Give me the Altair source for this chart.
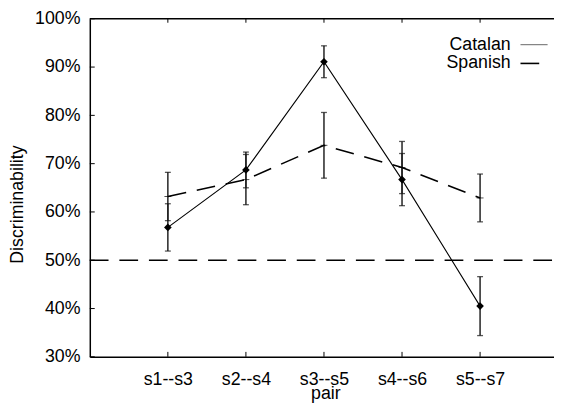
import altair as alt
import pandas as pd

# ---- data ----
pairs = ["s1--s3", "s2--s4", "s3--s5", "s4--s6", "s5--s7"]
catalan = [56.8, 68.7, 91.1, 66.7, 40.5]
catalan_err = [4.9, 3.7, 3.3, 5.4, 6.1]
spanish = [63.2, 66.7, 73.8, 69.2, 62.9]
spanish_err = [5.0, 5.2, 6.8, 5.4, 4.95]
y_ticks = [30, 40, 50, 60, 70, 80, 90, 100]
chance_level = [50]
series_names = ["Catalan", "Spanish"]

rows = []
for i, p in enumerate(pairs):
    rows.append(dict(pos=i + 1, pair=p, series=series_names[0], value=catalan[i],
                     lo=catalan[i] - catalan_err[i], hi=catalan[i] + catalan_err[i]))
    rows.append(dict(pos=i + 1, pair=p, series=series_names[1], value=spanish[i],
                     lo=spanish[i] - spanish_err[i], hi=spanish[i] + spanish_err[i]))
df = pd.DataFrame(rows)
cat_df = df[df.series == series_names[0]]
spa_df = df[df.series == series_names[1]]

W, H = 471, 343
FONT = "Liberation Sans"
FS = 18
xs = alt.Scale(domain=[0, 5.947], nice=False, zero=False)
ys = alt.Scale(domain=[30, 100], nice=False, zero=False)

label_expr = "[" + ",".join("'%s'" % p for p in pairs) + "][datum.value - 1]"

x_axis = alt.Axis(values=list(range(1, len(pairs) + 1)), labelExpr=label_expr, title="pair",
                  ticks=False, tickSize=0, grid=False, domainColor="black", domainWidth=1.5,
                  labelFont=FONT, labelFontSize=FS, labelColor="black", labelPadding=14,
                  labelFlush=False, labelOverlap=False,
                  titleFont=FONT, titleFontSize=FS, titleFontWeight="normal", titleColor="black",
                  titleX=239, titleY=42.5, titleBaseline="alphabetic", titleAlign="center")
y_axis = alt.Axis(values=y_ticks, labelExpr="datum.value + '%'", title="Discriminability",
                  ticks=False, tickSize=0, grid=False, domainColor="black", domainWidth=1.5,
                  labelFont=FONT, labelFontSize=FS, labelColor="black", labelPadding=10,
                  labelFlush=False, labelOverlap=False,
                  titleFont=FONT, titleFontSize=FS, titleFontWeight="normal", titleColor="black",
                  titleX=-73.5, titleY=188, titleAngle=270, titleBaseline="middle", titleAlign="center")


def X(f):
    return alt.X(f, scale=xs, axis=x_axis)


def Y(f):
    return alt.Y(f, scale=ys, axis=y_axis)


base_cat = alt.Chart(cat_df)
base_spa = alt.Chart(spa_df)

chance = alt.Chart(pd.DataFrame({"value": chance_level})).mark_rule(
    color="black", strokeWidth=1.5, strokeDash=[19, 11]
).encode(y=Y("value:Q"), x=alt.value(0), x2=alt.value(W))

err = alt.Chart(df).mark_rule(color="#222", strokeWidth=1.5).encode(
    x=X("pos:Q"), y=Y("lo:Q"), y2="hi:Q")
cap_lo = alt.Chart(df).mark_tick(orient="horizontal", size=6, thickness=1.3, color="#111").encode(
    x=X("pos:Q"), y=Y("lo:Q"))
cap_hi = alt.Chart(df).mark_tick(orient="horizontal", size=6, thickness=1.3, color="#111").encode(
    x=X("pos:Q"), y=Y("hi:Q"))

cat_line = base_cat.mark_line(color="black", strokeWidth=1.1).encode(x=X("pos:Q"), y=Y("value:Q"))
spa_line = base_spa.mark_line(color="black", strokeWidth=1.6, strokeDash=[19, 11]).encode(
    x=X("pos:Q"), y=Y("value:Q"))
cat_pts = base_cat.mark_point(shape="diamond", filled=True, size=60, color="black", opacity=1).encode(
    x=X("pos:Q"), y=Y("value:Q"))
spa_pts = base_spa.mark_tick(orient="horizontal", size=7, thickness=1, color="black").encode(
    x=X("pos:Q"), y=Y("value:Q"))

# inward ticks
ytick = alt.Chart(pd.DataFrame({"t": y_ticks})).mark_rule(color="black", strokeWidth=1).encode(
    y=Y("t:Q"), x=alt.value(0), x2=alt.value(5))
pos_df = pd.DataFrame({"p": list(range(1, len(pairs) + 1))})
xtick_b = alt.Chart(pos_df).mark_rule(color="black", strokeWidth=1).encode(
    x=X("p:Q"), y=alt.value(H), y2=alt.value(H - 5))
xtick_t = alt.Chart(pos_df).mark_rule(color="black", strokeWidth=1).encode(
    x=X("p:Q"), y=alt.value(0), y2=alt.value(4))
top_border = alt.Chart(pd.DataFrame({"a": [0]})).mark_rule(color="black", strokeWidth=1.5).encode(
    x=alt.value(0), x2=alt.value(W), y=alt.value(0))

# legend
leg_df = pd.DataFrame({"name": series_names})
leg_cat_txt = alt.Chart(leg_df.iloc[[0]]).mark_text(
    font=FONT, fontSize=FS, align="right", baseline="alphabetic", color="black"
).encode(text="name:N", x=alt.value(427), y=alt.value(31.3))
leg_spa_txt = alt.Chart(leg_df.iloc[[1]]).mark_text(
    font=FONT, fontSize=FS, align="right", baseline="alphabetic", color="black"
).encode(text="name:N", x=alt.value(427), y=alt.value(49.7))
leg_cat_line = alt.Chart(leg_df.iloc[[0]]).mark_rule(color="#666", strokeWidth=1).encode(
    x=alt.value(437), x2=alt.value(464.5), y=alt.value(26.3))
leg_spa_line = alt.Chart(leg_df.iloc[[1]]).mark_rule(color="black", strokeWidth=1.6).encode(
    x=alt.value(437), x2=alt.value(456), y=alt.value(45.3))

chart = alt.layer(
    cat_line, chance, err, cap_lo, cap_hi, spa_line, spa_pts, cat_pts,
    ytick, xtick_b, xtick_t, top_border,
    leg_cat_txt, leg_spa_txt, leg_cat_line, leg_spa_line
).properties(
    width=W, height=H,
    autosize=alt.AutoSizeParams(type="none"),
    padding={"left": 83, "top": 8, "right": 0, "bottom": 50},
    background="white"
).configure_view(stroke=None)

chart.save("out.html", embed_options={"renderer": "svg", "actions": False})
